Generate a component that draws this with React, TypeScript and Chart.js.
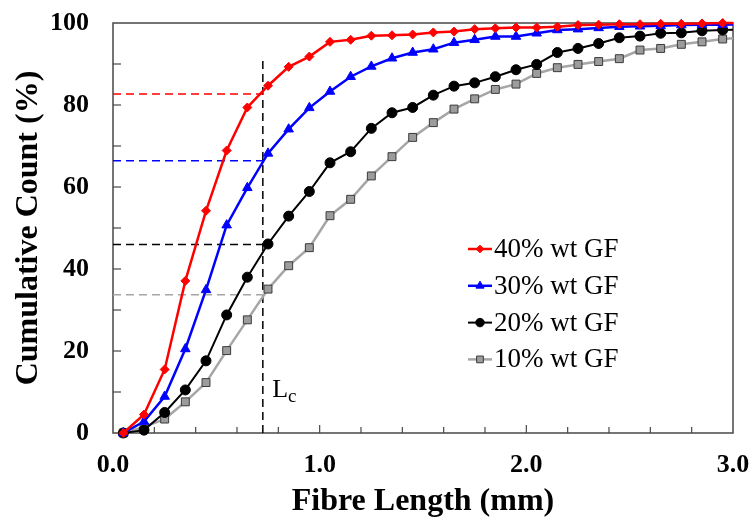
import { useEffect, useRef } from 'react';
import { Chart, registerables } from 'chart.js';

Chart.register(...registerables);

// ---- data ----
const fibreLength = [0.05, 0.15, 0.25, 0.35, 0.45, 0.55, 0.65, 0.75, 0.85, 0.95, 1.05, 1.15, 1.25, 1.35, 1.45, 1.55, 1.65, 1.75, 1.85, 1.95, 2.05, 2.15, 2.25, 2.35, 2.45, 2.55, 2.65, 2.75, 2.85, 2.95, 3.05];
const gf40 = [0, 4.5, 15.5, 37.1, 54.2, 68.9, 79.4, 84.7, 89.3, 91.8, 95.4, 95.9, 96.9, 97.0, 97.2, 97.7, 97.9, 98.5, 98.7, 98.9, 98.9, 99.1, 99.5, 99.6, 99.7, 99.7, 99.8, 99.8, 99.9, 100, 100];
const gf30 = [0, 2.8, 8.9, 20.5, 34.9, 50.7, 59.8, 68.2, 74.1, 79.3, 83.3, 86.9, 89.4, 91.4, 92.8, 93.6, 95.2, 95.9, 96.7, 96.7, 97.5, 98.3, 98.5, 98.8, 99.1, 99.2, 99.3, 99.5, 99.6, 99.6, 99.7];
const gf20 = [0, 0.7, 5.0, 10.5, 17.6, 28.8, 38.0, 46.1, 52.9, 58.9, 65.9, 68.6, 74.3, 78.1, 79.4, 82.4, 84.6, 85.4, 86.9, 88.6, 89.9, 92.8, 93.8, 95.0, 96.4, 96.8, 97.5, 97.6, 98.1, 98.3, 98.4];
const gf10 = [0, 1.5, 3.4, 7.6, 12.3, 20.1, 27.6, 35.1, 40.8, 45.2, 53.0, 57.0, 62.7, 67.4, 72.1, 75.7, 79.0, 81.5, 83.8, 85.1, 87.7, 89.1, 89.9, 90.6, 91.3, 93.4, 93.8, 94.8, 95.4, 96.1, 96.5];
const seriesLabels = ['40% wt GF', '30% wt GF', '20% wt GF', '10% wt GF'];
const lcLength = 0.725;
const lcLineTop = 91;
const lcLevels = [82.7, 66.4, 46.0, 33.7];
const xLabelValues = [0, 1, 2, 3];
const yLabelValues = [0, 20, 40, 60, 80, 100];

const FONT = '"Liberation Serif", "Times New Roman", serif';
const seriesStyles = [
  { color: '#ff0000', style: 'rectRot', radius: 4.5, width: 2.5, fill: '#ff0000', stroke: '#ff0000' },
  { color: '#0000ff', style: 'triangle', radius: 5.5, width: 2.5, fill: '#0000ff', stroke: '#0000ff' },
  { color: '#000000', style: 'circle', radius: 5, width: 2, fill: '#000000', stroke: '#000000' },
  { color: '#a6a6a6', style: 'rect', radius: 5.6, width: 2.5, fill: '#9c9c9c', stroke: '#3a3a3a' },
];
const refColors = ['#ff0000', '#0000ff', '#000000', '#a6a6a6'];

function drawMarker(ctx: CanvasRenderingContext2D, kind: string, x: number, y: number, r: number) {
  ctx.beginPath();
  if (kind === 'rectRot') {
    ctx.moveTo(x, y - r); ctx.lineTo(x + r, y); ctx.lineTo(x, y + r); ctx.lineTo(x - r, y); ctx.closePath();
  } else if (kind === 'triangle') {
    ctx.moveTo(x, y - r); ctx.lineTo(x + r * 0.866, y + r * 0.5); ctx.lineTo(x - r * 0.866, y + r * 0.5); ctx.closePath();
  } else if (kind === 'circle') {
    ctx.arc(x, y, r, 0, Math.PI * 2);
  } else {
    const s = r * Math.SQRT1_2;
    ctx.rect(x - s, y - s, 2 * s, 2 * s);
  }
  ctx.fill();
  ctx.stroke();
}

const framePlugin = {
  id: 'frameTicks',
  beforeDatasetsDraw(chart: any) {
    const { ctx, chartArea: a, scales } = chart;
    ctx.save();
    ctx.strokeStyle = '#474747';
    ctx.lineWidth = 1.5;
    ctx.strokeRect(a.left, a.top, a.right - a.left, a.bottom - a.top);
    ctx.lineWidth = 1.2;
    const xs = scales.x;
    xs.ticks.forEach((t: any) => {
      const px = xs.getPixelForValue(t.value);
      if (px <= a.left + 1 || px >= a.right - 1) return;
      const major = xLabelValues.some((v) => Math.abs(v - t.value) < 1e-6);
      ctx.beginPath();
      ctx.moveTo(px, a.bottom);
      ctx.lineTo(px, a.bottom - (major ? 8 : 6));
      ctx.stroke();
    });
    const ys = scales.y;
    ys.ticks.forEach((t: any) => {
      const py = ys.getPixelForValue(t.value);
      if (py <= a.top + 1 || py >= a.bottom - 1) return;
      ctx.beginPath();
      ctx.moveTo(a.left, py);
      ctx.lineTo(a.left + 8, py);
      ctx.stroke();
    });
    ctx.restore();
  },
  afterDraw(chart: any) {
    const { ctx, chartArea: a, scales } = chart;
    ctx.save();
    // Lc label
    const lx = scales.x.getPixelForValue(0.77);
    const ly = scales.y.getPixelForValue(8.8);
    ctx.fillStyle = '#000';
    ctx.textBaseline = 'alphabetic';
    ctx.textAlign = 'left';
    ctx.font = `26px ${FONT}`;
    ctx.fillText('L', lx, ly);
    const w = ctx.measureText('L').width;
    ctx.font = `19px ${FONT}`;
    ctx.fillText('c', lx + w, ly + 5);
    // legend
    const x0 = a.left + 355;
    seriesLabels.forEach((label, i) => {
      const st = seriesStyles[i];
      const y = a.top + 226 + i * 36.8;
      ctx.strokeStyle = st.color;
      ctx.lineWidth = st.width;
      ctx.beginPath();
      ctx.moveTo(x0, y);
      ctx.lineTo(x0 + 24, y);
      ctx.stroke();
      ctx.fillStyle = st.fill;
      ctx.strokeStyle = st.stroke;
      ctx.lineWidth = 1;
      drawMarker(ctx, st.style, x0 + 12, y, st.radius * 0.85);
      ctx.fillStyle = '#000';
      ctx.font = `27px ${FONT}`;
      ctx.textBaseline = 'middle';
      ctx.fillText(label, x0 + 26, y + 1);
    });
    ctx.restore();
  },
};

export default function App() {
  const ref = useRef<HTMLCanvasElement>(null);
  useEffect(() => {
    if (!ref.current) return;
    const seriesData = [gf40, gf30, gf20, gf10];
    const mainSets = seriesData.map((vals, i) => {
      const st = seriesStyles[i];
      return {
        label: seriesLabels[i],
        data: fibreLength.map((x, j) => ({ x, y: vals[j] })),
        borderColor: st.color,
        backgroundColor: st.fill,
        borderWidth: st.width,
        pointStyle: st.style,
        pointRadius: st.radius,
        pointBackgroundColor: st.fill,
        pointBorderColor: st.stroke,
        pointBorderWidth: 1,
        tension: 0,
        clip: { left: 12, top: 12, right: 0, bottom: 12 },
      };
    });
    const refSets = lcLevels.map((lvl, i) => ({
      label: 'ref' + i,
      data: [{ x: 0, y: lvl }, { x: lcLength, y: lvl }],
      borderColor: refColors[i],
      borderWidth: 1.5,
      borderDash: [8, 5],
      pointRadius: 0,
    }));
    const vSet = {
      label: 'Lc',
      data: [{ x: lcLength, y: 0 }, { x: lcLength, y: lcLineTop }],
      borderColor: '#000000',
      borderWidth: 1.5,
      borderDash: [8, 5],
      pointRadius: 0,
    };
    const hiddenGrid = (len: number) => ({
      display: true,
      drawOnChartArea: false,
      drawTicks: true,
      tickLength: len,
      color: 'rgba(0,0,0,0)',
      tickColor: 'rgba(0,0,0,0)',
    });
    const chart = new Chart(ref.current, {
      type: 'line',
      data: { datasets: [...mainSets, ...refSets, vSet] as any },
      plugins: [framePlugin as any],
      options: {
        animation: false,
        responsive: true,
        maintainAspectRatio: false,
        layout: { padding: { left: 0, top: 23, right: 18, bottom: 0 } },
        plugins: { legend: { display: false }, tooltip: { enabled: false } },
        scales: {
          x: {
            type: 'linear',
            min: 0,
            max: 3,
            afterFit: (s: any) => { s.height = 88; },
            grid: hiddenGrid(17),
            border: { display: false },
            ticks: {
              stepSize: 0.2,
              autoSkip: false,
              maxRotation: 0,
              padding: 0,
              color: '#000',
              font: { family: FONT, size: 26, weight: 'bold' },
              callback: (v: any) => (xLabelValues.some((t) => Math.abs(t - v) < 1e-6) ? Number(v).toFixed(1) : ''),
            },
            title: {
              display: true,
              text: 'Fibre Length (mm)',
              color: '#000',
              font: { family: FONT, size: 32, weight: 'bold' },
              padding: { top: 0, bottom: 0 },
            },
          },
          y: {
            type: 'linear',
            min: 0,
            max: 100,
            afterFit: (s: any) => { s.width = 113; },
            grid: hiddenGrid(24),
            border: { display: false },
            ticks: {
              stepSize: 10,
              autoSkip: false,
              padding: 0,
              color: '#000',
              font: { family: FONT, size: 26, weight: 'bold' },
              callback: (v: any) => (yLabelValues.includes(Number(v)) ? String(v) : ''),
            },
            title: {
              display: true,
              text: 'Cumulative Count (%)',
              color: '#000',
              font: { family: FONT, size: 32, weight: 'bold' },
              padding: { top: 10, bottom: 0 },
            },
          },
        },
      } as any,
    });
    return () => chart.destroy();
  }, []);
  return (
    <div style={{ position: 'absolute', left: 0, top: 0, width: 751, height: 521, background: '#fff' }}>
      <canvas ref={ref} />
    </div>
  );
}
